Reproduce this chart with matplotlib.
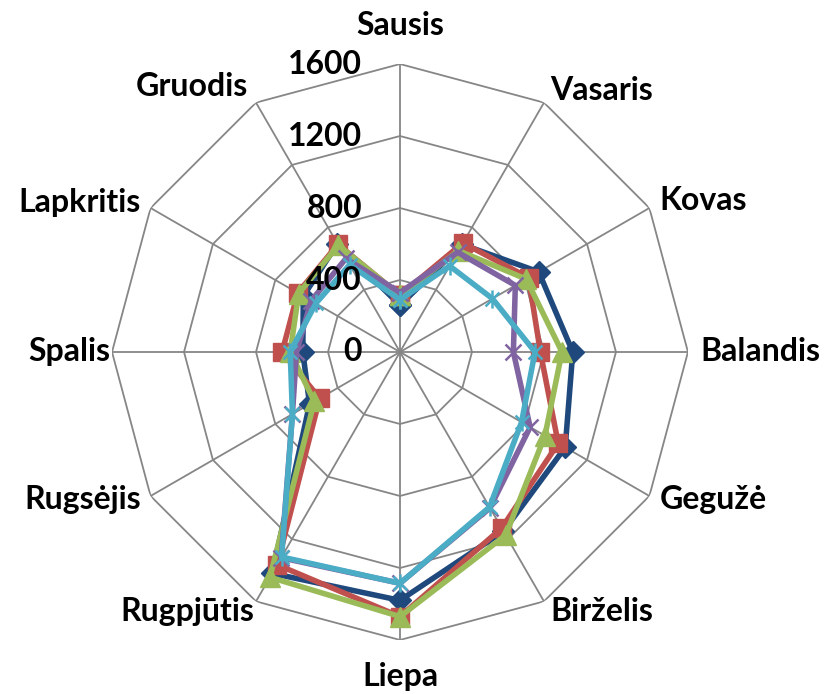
import numpy as np
import matplotlib
matplotlib.use("Agg")
import matplotlib.pyplot as plt
from matplotlib.path import Path

months = ["Sausis", "Vasaris", "Kovas", "Balandis", "Gegužė", "Birželis",
          "Liepa", "Rugpjūtis", "Rugsėjis", "Spalis", "Lapkritis", "Gruodis"]

s1 = [260, 690, 890, 960, 1060, 1150, 1380, 1420, 580, 540, 620, 695]
s2 = [315, 700, 825, 780, 1015, 1130, 1470, 1365, 515, 655, 656, 690]
s3 = [315, 650, 810, 900, 930, 1175, 1470, 1445, 550, 610, 650, 685]
s4 = [330, 640, 740, 630, 835, 1000, 1285, 1320, 690, 575, 570, 600]
s5 = [290, 552, 593, 750, 780, 995, 1285, 1315, 690, 610, 540, 560]

r_ticks = [0, 400, 800, 1200, 1600]

# asterisk marker (x plus vertical bar) like Excel's star
star = Path([(-1, -1), (1, 1), (-1, 1), (1, -1), (0, -1.3), (0, 1.3)],
            [Path.MOVETO, Path.LINETO, Path.MOVETO, Path.LINETO, Path.MOVETO, Path.LINETO])

series = [
    (s1, "#1F497D", "D", 11),
    (s2, "#C0504D", "s", 13),
    (s3, "#9BBB59", "^", 15),
    (s4, "#8064A2", "x", 12),
    (s5, "#4BACC6", star, 13),
]

n = len(months)
theta = np.linspace(0, 2 * np.pi, n, endpoint=False)
theta_c = np.append(theta, theta[0])

fig = plt.figure(figsize=(8.34, 6.94), dpi=100)
ax = fig.add_axes([0.1343, 0.0778, 0.6906, 0.830], projection="polar")
ax.set_theta_zero_location("N")
ax.set_theta_direction(-1)
ax.set_ylim(0, 1600)
ax.spines["polar"].set_visible(False)
ax.set_yticks([])
ax.set_xticks(theta)
ax.set_xticklabels([])
ax.xaxis.grid(True, color="#868686", linewidth=1.3)
ax.yaxis.grid(False)

# polygon gridlines
for r in r_ticks[1:]:
    ax.plot(theta_c, [r] * (n + 1), color="#868686", linewidth=1.3, zorder=1)

for vals, col, mk, ms in series:
    v = np.append(vals, vals[0])
    kw = dict(markeredgewidth=1.8) if mk in ("x",) or mk is star else {}
    ax.plot(theta_c, v, color=col, linewidth=4, marker=mk, markersize=ms,
            markerfacecolor=col, markeredgecolor=col, zorder=3, clip_on=False, **kw)

font = dict(family=["Lato", "DejaVu Sans"], fontweight="bold", fontsize=23)

for r in r_ticks:
    ax.annotate(str(r), xy=(0, r), xytext=(-38, 0), textcoords="offset pixels",
                ha="right", va="center", zorder=5, **font)

# category label placement
place = [
    ("center", "bottom", (0, 24)),
    ("left", "bottom", (6, -2)),
    ("left", "center", (10, 8)),
    ("left", "center", (12, 0)),
    ("left", "center", (10, -4)),
    ("left", "top", (6, 4)),
    ("center", "top", (0, -22)),
    ("right", "top", (-2, 4)),
    ("right", "center", (-10, -4)),
    ("right", "center", (-2, 0)),
    ("right", "center", (-10, 6)),
    ("right", "bottom", (-8, 2)),
]
for t, name, (ha, va, off) in zip(theta, months, place):
    ax.annotate(name, xy=(t, 1600), xytext=off, textcoords="offset pixels",
                ha=ha, va=va, annotation_clip=False, **font)

fig.savefig("out.png", dpi=100)
